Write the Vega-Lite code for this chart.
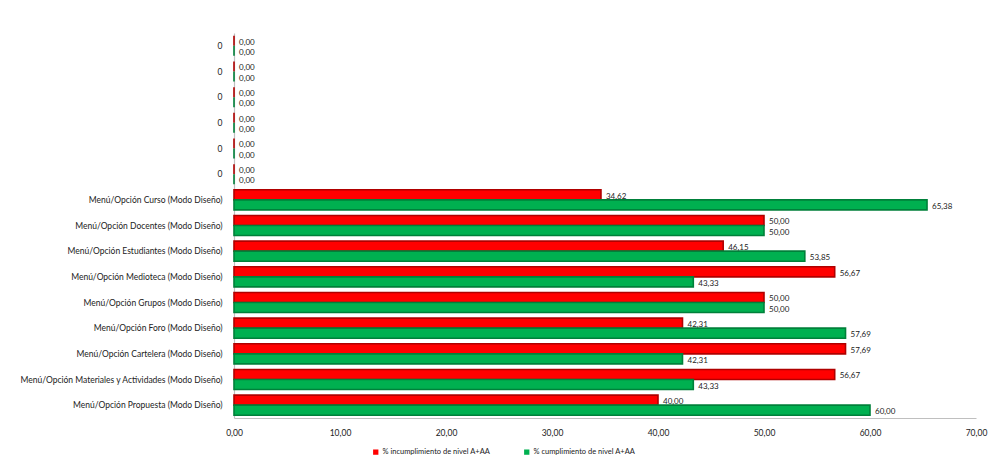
{
  "$schema": "https://vega.github.io/schema/vega-lite/v6.json",
  "autosize": {"type": "none"},
  "padding": {"left": 234, "top": 33, "right": 25, "bottom": 45},
  "width": 742,
  "height": 385,
  "background": "white",
  "config": {
    "locale": {"number": {"decimal": ",", "thousands": ".", "grouping": [3], "currency": ["", " €"]}},
    "view": {"stroke": null},
    "font": "Lato",
    "axis": {"labelFont": "Lato", "labelColor": "#222222", "labelFontSize": 8.5, "grid": false, "ticks": false, "title": null}
  },
  "data": {
    "values": [
      {"cat": "0", "serie": "% incumplimiento de nivel A+AA", "valor": 0},
      {"cat": "0", "serie": "% cumplimiento de nivel A+AA", "valor": 0},
      {"cat": "0\u200b", "serie": "% incumplimiento de nivel A+AA", "valor": 0},
      {"cat": "0\u200b", "serie": "% cumplimiento de nivel A+AA", "valor": 0},
      {"cat": "0\u200b\u200b", "serie": "% incumplimiento de nivel A+AA", "valor": 0},
      {"cat": "0\u200b\u200b", "serie": "% cumplimiento de nivel A+AA", "valor": 0},
      {"cat": "0\u200b\u200b\u200b", "serie": "% incumplimiento de nivel A+AA", "valor": 0},
      {"cat": "0\u200b\u200b\u200b", "serie": "% cumplimiento de nivel A+AA", "valor": 0},
      {"cat": "0\u200b\u200b\u200b\u200b", "serie": "% incumplimiento de nivel A+AA", "valor": 0},
      {"cat": "0\u200b\u200b\u200b\u200b", "serie": "% cumplimiento de nivel A+AA", "valor": 0},
      {"cat": "0\u200b\u200b\u200b\u200b\u200b", "serie": "% incumplimiento de nivel A+AA", "valor": 0},
      {"cat": "0\u200b\u200b\u200b\u200b\u200b", "serie": "% cumplimiento de nivel A+AA", "valor": 0},
      {"cat": "Menú/Opción Curso (Modo Diseño)", "serie": "% incumplimiento de nivel A+AA", "valor": 34.62},
      {"cat": "Menú/Opción Curso (Modo Diseño)", "serie": "% cumplimiento de nivel A+AA", "valor": 65.38},
      {"cat": "Menú/Opción Docentes (Modo Diseño)", "serie": "% incumplimiento de nivel A+AA", "valor": 50.0},
      {"cat": "Menú/Opción Docentes (Modo Diseño)", "serie": "% cumplimiento de nivel A+AA", "valor": 50.0},
      {"cat": "Menú/Opción Estudiantes (Modo Diseño)", "serie": "% incumplimiento de nivel A+AA", "valor": 46.15},
      {"cat": "Menú/Opción Estudiantes (Modo Diseño)", "serie": "% cumplimiento de nivel A+AA", "valor": 53.85},
      {"cat": "Menú/Opción Medioteca (Modo Diseño)", "serie": "% incumplimiento de nivel A+AA", "valor": 56.67},
      {"cat": "Menú/Opción Medioteca (Modo Diseño)", "serie": "% cumplimiento de nivel A+AA", "valor": 43.33},
      {"cat": "Menú/Opción Grupos (Modo Diseño)", "serie": "% incumplimiento de nivel A+AA", "valor": 50.0},
      {"cat": "Menú/Opción Grupos (Modo Diseño)", "serie": "% cumplimiento de nivel A+AA", "valor": 50.0},
      {"cat": "Menú/Opción Foro (Modo Diseño)", "serie": "% incumplimiento de nivel A+AA", "valor": 42.31},
      {"cat": "Menú/Opción Foro (Modo Diseño)", "serie": "% cumplimiento de nivel A+AA", "valor": 57.69},
      {"cat": "Menú/Opción Cartelera (Modo Diseño)", "serie": "% incumplimiento de nivel A+AA", "valor": 57.69},
      {"cat": "Menú/Opción Cartelera (Modo Diseño)", "serie": "% cumplimiento de nivel A+AA", "valor": 42.31},
      {"cat": "Menú/Opción Materiales y Actividades (Modo Diseño)", "serie": "% incumplimiento de nivel A+AA", "valor": 56.67},
      {"cat": "Menú/Opción Materiales y Actividades (Modo Diseño)", "serie": "% cumplimiento de nivel A+AA", "valor": 43.33},
      {"cat": "Menú/Opción Propuesta (Modo Diseño)", "serie": "% incumplimiento de nivel A+AA", "valor": 40.0},
      {"cat": "Menú/Opción Propuesta (Modo Diseño)", "serie": "% cumplimiento de nivel A+AA", "valor": 60.0}
    ]
  },
  "encoding": {
    "y": {
      "field": "cat",
      "type": "nominal",
      "sort": null,
      "scale": {"paddingInner": 0.22, "paddingOuter": 0.11},
      "axis": {"labelPadding": 12, "domain": true, "domainColor": "#bfbfbf", "domainWidth": 1.2, "labelLimit": 400}
    },
    "yOffset": {
      "field": "serie",
      "type": "nominal",
      "sort": ["% incumplimiento de nivel A+AA", "% cumplimiento de nivel A+AA"]
    },
    "x": {
      "field": "valor",
      "type": "quantitative",
      "scale": {"domain": [0, 70], "nice": false},
      "axis": {"values": [0, 10, 20, 30, 40, 50, 60, 70], "format": ".2f", "labelPadding": 10, "domainColor": "#bfbfbf", "domainWidth": 1.2, "labelFlush": false}
    }
  },
  "layer": [
    {
      "mark": {"type": "bar", "strokeWidth": 1.6},
      "encoding": {
        "color": {
          "field": "serie",
          "type": "nominal",
          "scale": {"domain": ["% incumplimiento de nivel A+AA", "% cumplimiento de nivel A+AA"], "range": ["#ff0000", "#00b050"]},
          "legend": {
            "title": null,
            "orient": "none",
            "direction": "horizontal",
            "legendX": 138,
            "legendY": 415,
            "symbolType": "square",
            "symbolSize": 28,
            "symbolStrokeWidth": 0,
            "labelFont": "Lato",
            "labelFontSize": 7.5,
            "labelColor": "#222222",
            "labelOffset": 3,
            "columnPadding": 32,
            "labelLimit": 300
          }
        },
        "stroke": {
          "field": "serie",
          "type": "nominal",
          "scale": {"domain": ["% incumplimiento de nivel A+AA", "% cumplimiento de nivel A+AA"], "range": ["#b00000", "#00803a"]},
          "legend": null
        }
      }
    },
    {
      "mark": {"type": "text", "align": "left", "baseline": "middle", "dx": 5, "dy": 2, "fontSize": 8, "font": "Lato", "color": "#222222"},
      "encoding": {
        "text": {"field": "valor", "type": "quantitative", "format": ".2f"}
      }
    }
  ]
}
